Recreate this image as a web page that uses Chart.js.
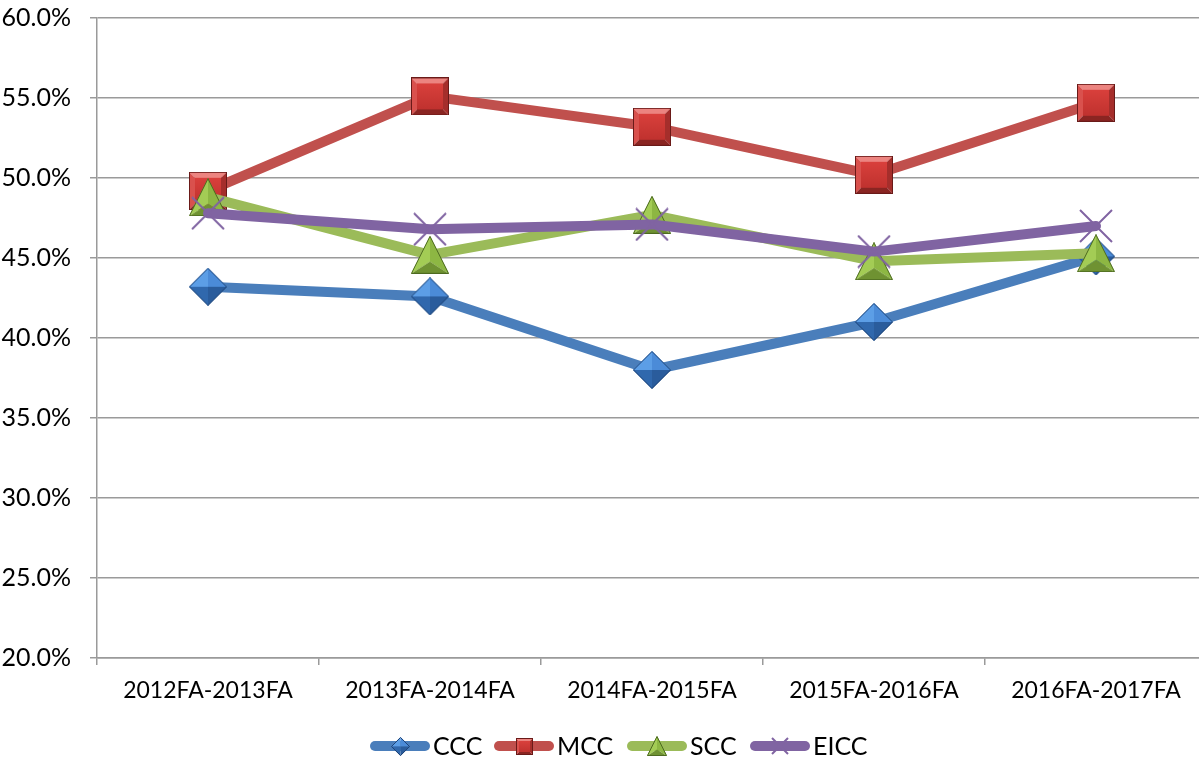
<!DOCTYPE html>
<html>
<head>
<meta charset="utf-8">
<script src="https://cdn.jsdelivr.net/npm/chart.js@4"></script>
<style>
  html, body { margin: 0; background: #fff; overflow: hidden; }
  #chart { display: block; }
</style>
</head>
<body>
<!-- a little wider than the window: the source image crops the right end of the plot -->
<canvas id="chart" width="1210" height="761"></canvas>
<script>
"use strict";

// Retention rate by cohort (fall to fall), per college, in percent.
const TERMS = ["2012FA-2013FA", "2013FA-2014FA", "2014FA-2015FA", "2015FA-2016FA", "2016FA-2017FA"];
const CCC = [43.2, 42.6, 38.0, 41.0, 45.1];
const MCC = [49.2, 55.1, 53.2, 50.2, 54.7];
const SCC = [48.8, 45.2, 47.7, 44.8, 45.3];
const EICC = [47.8, 46.8, 47.1, 45.4, 47.0];
const Y_MIN = 20, Y_MAX = 60, Y_STEP = 5;

const FONT = "Lato, 'Open Sans', sans-serif";
const GRID = "#9a9a9a";

// --- bevelled marker images, roughly like Office 2007 chart markers ---
function face(g, pts, fill) {
  g.beginPath();
  g.moveTo(pts[0][0], pts[0][1]);
  for (const p of pts.slice(1)) g.lineTo(p[0], p[1]);
  g.closePath();
  g.fillStyle = fill;
  g.fill();
}

function newCanvas(w, h) {
  const c = document.createElement("canvas");
  c.width = w; c.height = h;
  return c;
}

function squareMarker(s) {
  const c = newCanvas(s, s), g = c.getContext("2d");
  const b = Math.round(s * 0.16);
  face(g, [[0, 0], [s, 0], [s - b, b], [b, b]], "#ec8480");
  face(g, [[0, 0], [b, b], [b, s - b], [0, s]], "#d9514d");
  face(g, [[s, 0], [s, s], [s - b, s - b], [s - b, b]], "#a52e2b");
  face(g, [[0, s], [b, s - b], [s - b, s - b], [s, s]], "#8a2522");
  const grd = g.createLinearGradient(0, b, 0, s - b);
  grd.addColorStop(0, "#d9403c");
  grd.addColorStop(1, "#c0322f");
  g.fillStyle = grd;
  g.fillRect(b, b, s - 2 * b, s - 2 * b);
  g.strokeStyle = "#6a1a18";
  g.lineWidth = 1;
  g.strokeRect(0.5, 0.5, s - 1, s - 1);
  return c;
}

function diamondMarker(s) {
  const c = newCanvas(s, s), g = c.getContext("2d");
  const m = s / 2;
  face(g, [[m, 0], [0, m], [m, m]], "#5c9ee6");
  face(g, [[m, 0], [s, m], [m, m]], "#4b8bd8");
  face(g, [[0, m], [m, s], [m, m]], "#3068ad");
  face(g, [[s, m], [m, s], [m, m]], "#2a5c9c");
  g.beginPath();
  g.moveTo(m, 0.5); g.lineTo(s - 0.5, m); g.lineTo(m, s - 0.5); g.lineTo(0.5, m); g.closePath();
  g.strokeStyle = "#1e4478";
  g.lineWidth = 1;
  g.stroke();
  return c;
}

function triangleMarker(s) {
  const c = newCanvas(s, s), g = c.getContext("2d");
  const cx = s / 2, cy = s * 0.68;
  face(g, [[cx, 0], [0, s], [cx, cy]], "#a3cc55");
  face(g, [[cx, 0], [s, s], [cx, cy]], "#8db743");
  face(g, [[0, s], [s, s], [cx, cy]], "#6f9232");
  g.beginPath();
  g.moveTo(cx, 0.5); g.lineTo(s - 0.5, s - 0.5); g.lineTo(0.5, s - 0.5); g.closePath();
  g.strokeStyle = "#4d6a20";
  g.lineWidth = 1;
  g.stroke();
  return c;
}

function crossMarker(s) {
  const c = newCanvas(s, s), g = c.getContext("2d");
  g.strokeStyle = "#8064a2";
  g.lineWidth = 2;
  g.beginPath();
  g.moveTo(1, 1); g.lineTo(s - 1, s - 1);
  g.moveTo(s - 1, 1); g.lineTo(1, s - 1);
  g.stroke();
  return c;
}

function series(label, data, color, marker, legendMarker, order) {
  return {
    label, data, order,
    borderColor: color,
    backgroundColor: color,
    borderWidth: 10,
    borderCapStyle: "round",
    borderJoinStyle: "round",
    tension: 0,
    pointStyle: marker,
    pointRadius: 19,
    pointHoverRadius: 19,
    legendMarker,
  };
}

const datasets = [
  series("CCC", CCC, "#4a7ebb", diamondMarker(38), diamondMarker(19), 4),
  series("MCC", MCC, "#c0504d", squareMarker(38), squareMarker(17), 3),
  series("SCC", SCC, "#9bbb59", triangleMarker(38), triangleMarker(20), 2),
  series("EICC", EICC, "#8064a2", crossMarker(34), crossMarker(18), 1),
];

// Legend drawn as line sample + marker, Office style.
const LEGEND_X = [370, 494, 627, 750];
const lineLegend = {
  id: "lineLegend",
  afterDraw(chart) {
    const ctx = chart.ctx;
    const y = 746;
    const sample = 60, textGap = 3;
    ctx.save();
    ctx.font = `25px ${FONT}`;
    chart.data.datasets.forEach((d, i) => {
      const x = LEGEND_X[i];
      ctx.strokeStyle = d.borderColor;
      ctx.lineWidth = 10;
      ctx.lineCap = "round";
      ctx.beginPath();
      ctx.moveTo(x + 5, y);
      ctx.lineTo(x + sample - 5, y);
      ctx.stroke();
      const m = d.legendMarker;
      ctx.drawImage(m, Math.round(x + sample / 2 - m.width / 2), Math.round(y - m.height / 2));
      ctx.fillStyle = "#000";
      ctx.textBaseline = "middle";
      ctx.textAlign = "left";
      ctx.fillText(d.label, x + sample + textGap, y + 1);
    });
    ctx.restore();
  },
};

new Chart(document.getElementById("chart"), {
  type: "line",
  data: { labels: TERMS, datasets },
  options: {
    responsive: false,
    animation: false,
    devicePixelRatio: 1,
    layout: { autoPadding: false, padding: { top: 18, right: 3, left: 0, bottom: 0 } },
    plugins: {
      legend: { display: false },
      tooltip: { enabled: false },
    },
    scales: {
      x: {
        offset: true,
        afterFit: (s) => { s.height = 103; s.paddingLeft = 0; s.paddingRight = 0; },
        grid: { offset: true, drawOnChartArea: false, drawTicks: true, tickLength: 7, color: GRID, lineWidth: 1.5 },
        border: { display: true, color: GRID, width: 1.5 },
        ticks: { color: "#000", font: { family: FONT, size: 23 }, padding: 12, maxRotation: 0 },
      },
      y: {
        min: Y_MIN,
        max: Y_MAX,
        afterFit: (s) => { s.width = 97; s.paddingTop = 0; s.paddingBottom = 0; },
        grid: { color: GRID, lineWidth: 1.5, tickLength: 7 },
        border: { display: true, color: GRID, width: 1.5 },
        ticks: {
          stepSize: Y_STEP,
          color: "#000",
          font: { family: FONT, size: 25 },
          padding: 19,
          callback: (v) => v.toFixed(1) + "%",
        },
      },
    },
  },
  plugins: [lineLegend],
});
</script>
</body>
</html>
